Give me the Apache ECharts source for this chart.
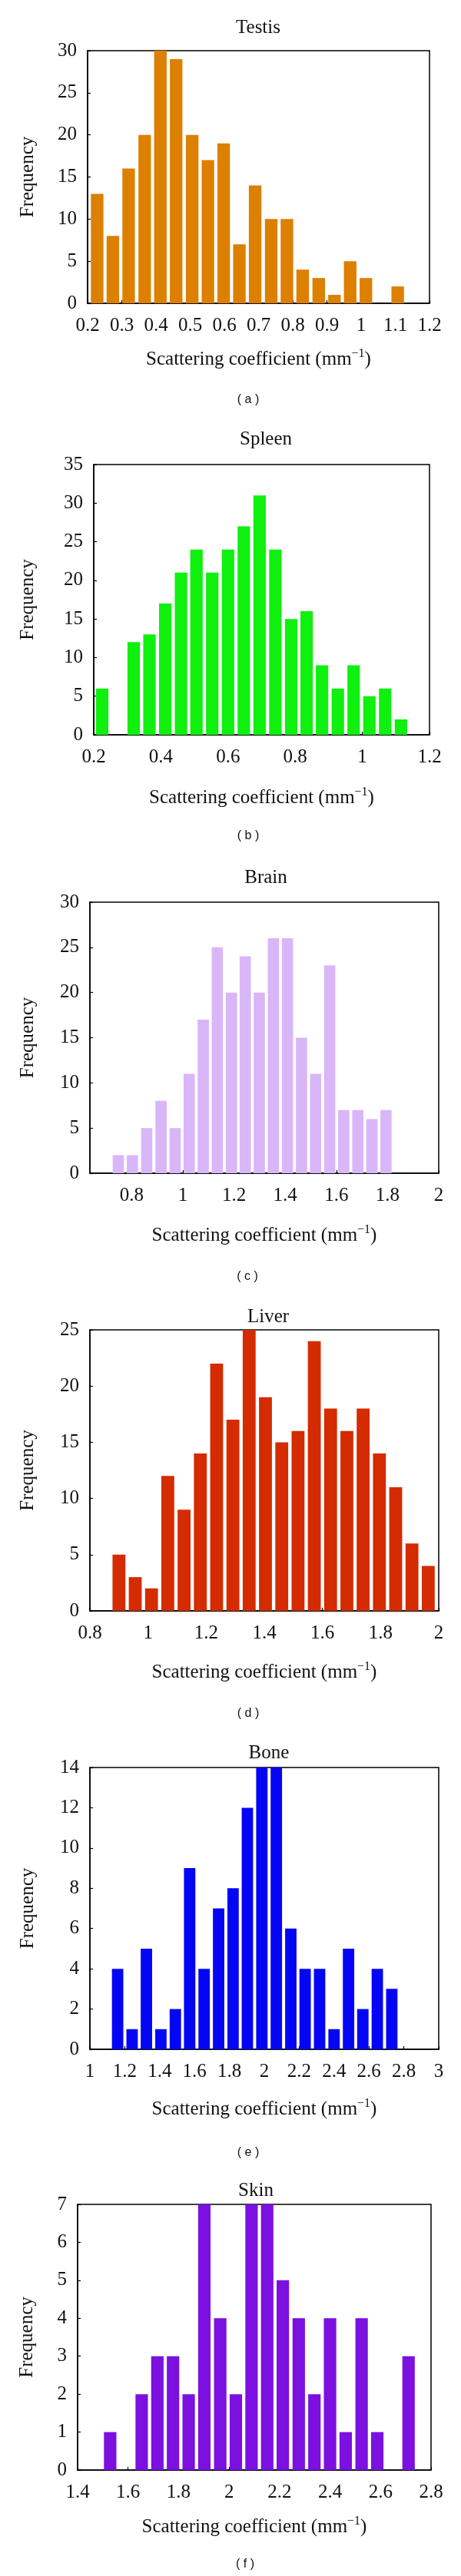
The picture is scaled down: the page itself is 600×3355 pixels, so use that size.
<!DOCTYPE html>
<html>
<head>
<meta charset="utf-8">
<script src="https://cdn.jsdelivr.net/npm/echarts@6/dist/echarts.min.js"></script>
<style>
html,body{margin:0;padding:0;background:#fff;}
#chart{width:600px;height:3355px;}
</style>
</head>
<body>
<div id="chart"></div>
<script>
// ---------------- data ----------------
const titles = ['Testis', 'Spleen', 'Brain', 'Liver', 'Bone', 'Skin'];
const captions = ['( a )', '( b )', '( c )', '( d )', '( e )', '( f )'];

const testisCenters = [0.228,0.274,0.320,0.367,0.413,0.459,0.506,0.552,0.598,0.644,0.690,0.737,0.783,0.829,0.876,0.922,0.968,1.014,1.060,1.107];
const testisCounts  = [13,8,16,20,30,29,20,17,19,7,14,10,10,4,3,1,5,3,0,2];

const spleenCenters = [0.225,0.272,0.319,0.366,0.413,0.460,0.506,0.553,0.600,0.647,0.694,0.741,0.788,0.834,0.880,0.927,0.974,1.021,1.068,1.115];
const spleenCounts  = [6,0,12,13,17,21,24,21,24,27,31,24,15,16,9,6,9,5,6,2];

const brainCenters = [0.748,0.803,0.859,0.915,0.970,1.025,1.080,1.135,1.190,1.244,1.299,1.354,1.409,1.464,1.519,1.574,1.629,1.684,1.739,1.794];
const brainCounts  = [2,2,5,8,5,11,17,25,20,24,20,26,26,15,11,23,7,7,6,7];

const liverCenters = [0.900,0.956,1.012,1.068,1.124,1.180,1.236,1.292,1.348,1.404,1.460,1.516,1.572,1.628,1.684,1.740,1.796,1.852,1.908,1.964];
const liverCounts  = [5,3,2,12,9,14,22,17,25,19,15,16,24,18,16,18,14,11,6,4];

const boneCenters = [1.159,1.242,1.324,1.407,1.490,1.572,1.655,1.738,1.821,1.903,1.986,2.069,2.152,2.234,2.317,2.400,2.483,2.565,2.648,2.731];
const boneCounts  = [4,1,5,1,2,9,4,7,8,12,14,14,6,4,4,1,5,2,4,3];

const skinCenters = [1.529,1.591,1.654,1.716,1.778,1.840,1.902,1.965,2.027,2.089,2.151,2.213,2.276,2.338,2.400,2.462,2.525,2.587,2.649,2.711];
const skinCounts  = [1,0,2,3,3,2,7,4,2,7,7,5,4,2,4,1,4,1,0,3];

// tick labels
const testisXTicks = [0.2,0.3,0.4,0.5,0.6,0.7,0.8,0.9,1,1.1,1.2];
const spleenXTicks = [0.2,0.4,0.6,0.8,1,1.2];
const brainXTicks  = [0.8,1,1.2,1.4,1.6,1.8,2];
const liverXTicks  = [0.8,1,1.2,1.4,1.6,1.8,2];
const boneXTicks   = [1,1.2,1.4,1.6,1.8,2,2.2,2.4,2.6,2.8,3];
const skinXTicks   = [1.4,1.6,1.8,2,2.2,2.4,2.6,2.8];

const testisYTicks = [0,5,10,15,20,25,30];
const spleenYTicks = [0,5,10,15,20,25,30,35];
const brainYTicks  = [0,5,10,15,20,25,30];
const liverYTicks  = [0,5,10,15,20,25];
const boneYTicks   = [0,2,4,6,8,10,12,14];
const skinYTicks   = [0,1,2,3,4,5,6,7];

// x-axis ranges
const xRanges = [[0.2,1.2],[0.2,1.2],[0.637,2],[0.8,2],[1,3],[1.4,2.8]];
const yRanges = [[0,30],[0,35],[0,30],[0,25],[0,14],[0,7]];

// ---------------- layout & style ----------------
const panels = [
  {centers: testisCenters, counts: testisCounts, xt: testisXTicks, yt: testisYTicks, color:'#DD7F00', bin:0.0464,
   left:114, right:41, top:66, bottom:395, titleX:336, titleY:36, capY:521, capX:323, nameGap:58, yNameGap:65},
  {centers: spleenCenters, counts: spleenCounts, xt: spleenXTicks, yt: spleenYTicks, color:'#0FF00F', bin:0.0469,
   left:122, right:41, top:605, bottom:957, titleX:346, titleY:572, capY:1089, capX:323, nameGap:67, yNameGap:73},
  {centers: brainCenters, counts: brainCounts, xt: brainXTicks, yt: brainYTicks, color:'#D9B6F8', bin:0.0555,
   left:117, right:29, top:1175, bottom:1528, titleX:346, titleY:1143, capY:1663, capX:322, nameGap:66, yNameGap:68},
  {centers: liverCenters, counts: liverCounts, xt: liverXTicks, yt: liverYTicks, color:'#D42B00', bin:0.0562,
   left:117, right:29, top:1732, bottom:2098, titleX:349, titleY:1715, capY:2232, capX:323, nameGap:65, yNameGap:68},
  {centers: boneCenters, counts: boneCounts, xt: boneXTicks, yt: boneYTicks, color:'#0505F5', bin:0.0827,
   left:117, right:29, top:2302, bottom:2669, titleX:350, titleY:2283, capY:2804, capX:323, nameGap:63, yNameGap:68},
  {centers: skinCenters, counts: skinCounts, xt: skinXTicks, yt: skinYTicks, color:'#7B10E0', bin:0.0623,
   left:101, right:39, top:2871, bottom:3217, titleX:333, titleY:2853, capY:3340, capX:319, nameGap:59, yNameGap:53}
];

const SERIF = '"Liberation Serif", "Times New Roman", "DejaVu Serif", serif';
const SANS = '"Liberation Sans", Arial, sans-serif';
const BAR_FRAC = 0.79;

const grid = [], xAxis = [], yAxis = [], series = [], graphic = [];

panels.forEach((p, i) => {
  grid.push({
    left: p.left, right: p.right, top: p.top, height: p.bottom - p.top,
    show: true, borderColor: '#000', borderWidth: 1.5, backgroundColor: 'transparent'
  });
  xAxis.push({
    type: 'value', gridIndex: i, min: xRanges[i][0], max: xRanges[i][1],
    splitLine: {show: false},
    axisLine: {show: true, onZero: false, lineStyle: {color: '#000', width: 1.5}},
    axisTick: {show: true, inside: true, length: 4, lineStyle: {color: '#000', width: 1.2}, customValues: p.xt},
    axisLabel: {customValues: p.xt, color: '#111', fontFamily: SERIF, fontSize: 25, margin: 17,
                formatter: v => String(+v.toFixed(2))},
    name: 'Scattering coefficient (mm{sup|−1})',
    nameLocation: 'middle', nameGap: p.nameGap,
    nameTextStyle: {color: '#111', fontFamily: SERIF, fontSize: 25, lineHeight: 30,
      rich: {sup: {fontFamily: SERIF, fontSize: 16, color: '#111', verticalAlign: 'top', lineHeight: 16}}}
  });
  yAxis.push({
    type: 'value', gridIndex: i, min: yRanges[i][0], max: yRanges[i][1],
    splitLine: {show: false},
    axisLine: {show: true, lineStyle: {color: '#000', width: 1.5}},
    axisTick: {show: true, inside: true, length: 4, lineStyle: {color: '#000', width: 1.2}, customValues: p.yt},
    axisLabel: {customValues: p.yt, color: '#111', fontFamily: SERIF, fontSize: 25, margin: 14},
    name: 'Frequency', nameLocation: 'middle', nameRotate: 90, nameGap: p.yNameGap,
    nameTextStyle: {color: '#111', fontFamily: SERIF, fontSize: 25}
  });
  const data = p.centers.map((c, k) => [c, p.counts[k]]);
  const halfW = p.bin * BAR_FRAC / 2;
  series.push({
    type: 'custom', xAxisIndex: i, yAxisIndex: i, data: data, clip: false,
    renderItem: (params, api) => {
      const x = api.value(0), y = api.value(1);
      if (!y) return null;
      const a = api.coord([x - halfW, y]);
      const b = api.coord([x + halfW, 0]);
      return {type: 'rect', shape: {x: a[0], y: a[1], width: b[0] - a[0], height: b[1] - a[1]},
              style: {fill: p.color}};
    },
    encode: {x: 0, y: 1}, z: 2
  });
  graphic.push({type: 'text', x: p.titleX, y: p.titleY,
    style: {text: titles[i], font: '25px ' + SERIF, fill: '#111', align: 'center', verticalAlign: 'middle'}});
  graphic.push({type: 'text', x: p.capX, y: p.capY,
    style: {text: captions[i], font: '16px ' + SANS, fill: '#111', align: 'center', verticalAlign: 'middle'}});
});

const chart = echarts.init(document.getElementById('chart'), null, {renderer: 'canvas'});
chart.setOption({
  animation: false,
  backgroundColor: '#fff',
  grid, xAxis, yAxis, series, graphic
});
</script>
</body>
</html>
